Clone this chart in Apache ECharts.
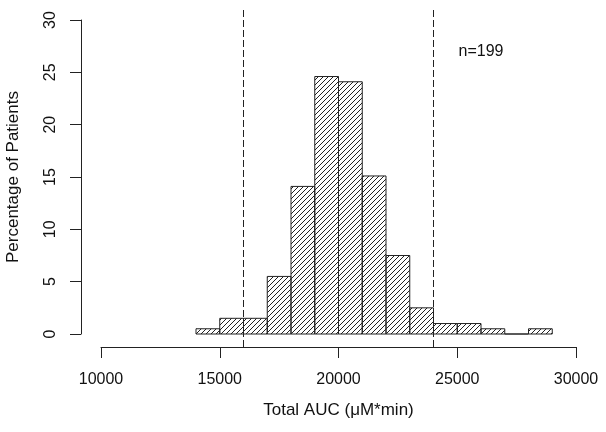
<!DOCTYPE html>
<html>
<head>
<meta charset="utf-8">
<script src="https://cdn.jsdelivr.net/npm/echarts@6/dist/echarts.min.js"></script>
<style>
  html, body { margin: 0; padding: 0; background: #fff; }
</style>
</head>
<body>
<div id="main" style="width:606px;height:432px;"></div>
<script>
// histogram bins (AUC, uM*min) and percentage of patients per bin
var binStarts = [14000, 15000, 16000, 17000, 18000, 19000, 20000, 21000, 22000, 23000, 24000, 25000, 26000, 27000, 28000];
var binEnds = [15000, 16000, 17000, 18000, 19000, 20000, 21000, 22000, 23000, 24000, 25000, 26000, 27000, 28000, 29000];
var percents = [0.5, 1.5, 1.5, 5.5, 14.1, 24.6, 24.1, 15.1, 7.5, 2.5, 1.0, 1.0, 0.5, 0, 0.5];
var cutoffs = [16000, 24000];
var xTicks = [10000, 15000, 20000, 25000, 30000];
var yTicks = [0, 5, 10, 15, 20, 25, 30];
var note = { x: 26000, y: 27, text: 'n=199' };

var FONT = '"Liberation Sans", Arial, Helvetica, sans-serif';

// diagonal hatch tile
function makeHatch() {
  var s = 5;
  var c = document.createElement('canvas');
  c.width = s; c.height = s;
  var g = c.getContext('2d');
  g.strokeStyle = '#222';
  g.lineWidth = 1;
  g.beginPath();
  g.moveTo(-1, s + 1); g.lineTo(s + 1, -1);
  g.moveTo(-1, 1); g.lineTo(1, -1);
  g.moveTo(s - 1, s + 1); g.lineTo(s + 1, s - 1);
  g.stroke();
  return c;
}
var hatch = makeHatch();

var chartDom = document.getElementById('main');
var myChart = echarts.init(chartDom, null, { renderer: 'canvas' });

var barData = binStarts.map(function (b, i) {
  return [b, binEnds[i], percents[i]];
});

var option = {
  animation: false,
  backgroundColor: '#fff',
  textStyle: { fontFamily: FONT },
  grid: [
    { left: 101, right: 30, top: 20, bottom: 98, outerBoundsMode: 'none', containLabel: false },
    { left: 81, right: 11, top: 7, bottom: 85, outerBoundsMode: 'none', containLabel: false }
  ],
  xAxis: [
    {
      gridIndex: 0,
      type: 'value',
      min: xTicks[0],
      max: xTicks[xTicks.length - 1],
      interval: 5000,
      offset: 13,
      name: 'Total AUC (\u03bcM*min)',
      nameLocation: 'middle',
      nameGap: 55,
      nameTextStyle: { fontSize: 17, color: '#111', fontFamily: FONT },
      axisLine: { onZero: false, lineStyle: { color: '#222', width: 1 } },
      axisTick: { length: 11, lineStyle: { color: '#222' } },
      axisLabel: {
        fontSize: 16, color: '#111', margin: 25, fontFamily: FONT,
        formatter: function (v) { return String(v); }
      },
      splitLine: { show: false }
    },
    {
      gridIndex: 1,
      type: 'value',
      min: 9200,
      max: 30800,
      show: false
    }
  ],
  yAxis: [
    {
      gridIndex: 0,
      type: 'value',
      min: yTicks[0],
      max: yTicks[yTicks.length - 1],
      interval: 5,
      offset: 20,
      name: 'Percentage of Patients',
      nameLocation: 'middle',
      nameGap: 59,
      nameTextStyle: { fontSize: 17, color: '#111', fontFamily: FONT },
      axisLine: { show: true, onZero: false, lineStyle: { color: '#222', width: 1 } },
      axisTick: { show: true, length: 11, lineStyle: { color: '#222' } },
      axisLabel: { fontSize: 16, color: '#111', margin: 22, rotate: 90, fontFamily: FONT },
      splitLine: { show: false }
    },
    {
      gridIndex: 1,
      type: 'value',
      min: 0,
      max: 1,
      show: false
    }
  ],
  series: [
    {
      type: 'custom',
      xAxisIndex: 0,
      yAxisIndex: 0,
      clip: false,
      data: barData,
      renderItem: function (params, api) {
        var p0 = api.coord([api.value(0), api.value(2)]);
        var p1 = api.coord([api.value(1), 0]);
        return {
          type: 'rect',
          shape: { x: p0[0], y: p0[1], width: p1[0] - p0[0], height: p1[1] - p0[1] },
          style: { fill: { image: hatch, repeat: 'repeat' }, stroke: '#222', lineWidth: 1 }
        };
      }
    },
    {
      type: 'scatter',
      xAxisIndex: 0,
      yAxisIndex: 0,
      symbolSize: 0,
      silent: true,
      itemStyle: { opacity: 1 },
      data: [[note.x, note.y]],
      label: {
        show: true,
        position: 'inside',
        formatter: note.text,
        fontSize: 16,
        color: '#111',
        opacity: 1,
        fontFamily: FONT
      }
    },
    {
      type: 'line',
      xAxisIndex: 1,
      yAxisIndex: 1,
      data: [],
      silent: true,
      z: 5,
      markLine: {
        silent: true,
        symbol: ['none', 'none'],
        label: { show: false },
        lineStyle: { color: '#222', width: 1, type: [7, 3] },
        data: cutoffs.map(function (c) { return { xAxis: c }; })
      }
    }
  ]
};

myChart.setOption(option);
</script>
</body>
</html>
